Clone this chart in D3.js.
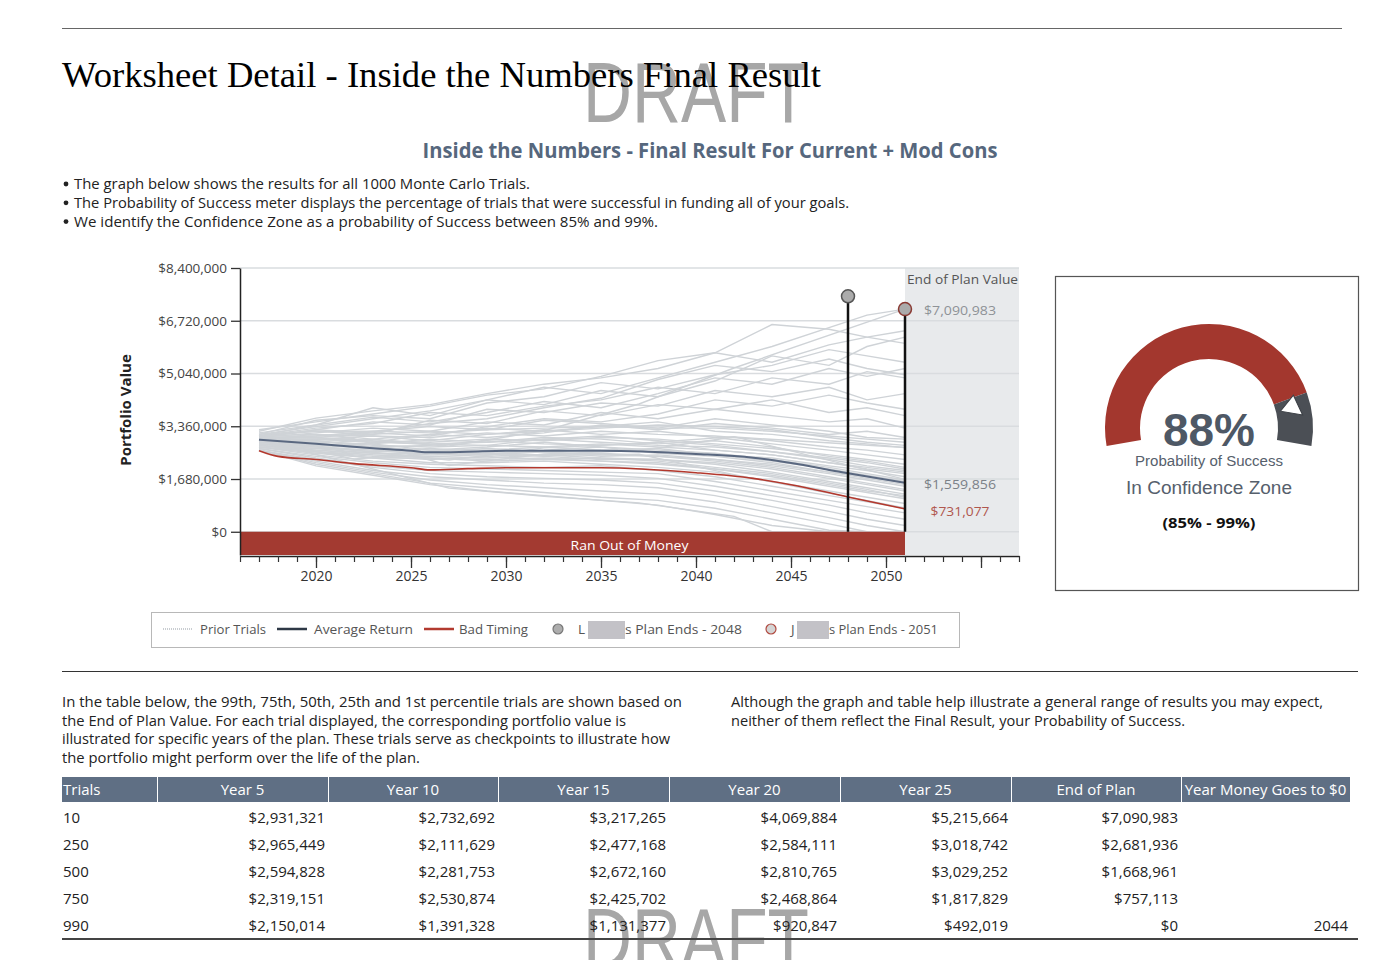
<!DOCTYPE html>
<html>
<head>
<meta charset="utf-8">
<script src="https://cdn.jsdelivr.net/npm/d3@7"></script>
<style>
body { margin: 0; background: #fff; }
svg { display: block; font-family: "Open Sans", sans-serif; }
</style>
</head>
<body>
<svg id="page" width="1400" height="960"></svg>
<script>
// ---- chart data (values in $ millions unless noted) ----
var trialYears = [2017, 2020, 2023, 2026, 2029, 2032, 2035, 2038, 2041, 2044, 2047, 2049, 2051];
var priorTrials = [
    [3.20, 3.62, 3.85, 4.05, 4.40, 4.70, 4.90, 5.20, 5.70, 6.60, 6.45, 6.20, 6.00],
    [3.15, 3.40, 3.95, 3.70, 4.20, 4.60, 4.40, 4.90, 5.40, 5.90, 6.50, 6.90, 7.09],
    [3.10, 3.55, 3.70, 3.60, 4.10, 4.30, 4.75, 4.55, 5.00, 5.30, 5.80, 5.60, 5.40],
    [3.05, 3.30, 3.45, 3.80, 3.70, 4.00, 4.20, 4.60, 4.40, 4.90, 4.70, 5.10, 4.90],
    [3.00, 3.25, 3.50, 3.40, 3.90, 3.80, 4.10, 4.00, 4.50, 4.30, 4.60, 4.20, 4.40],
    [3.05, 3.20, 3.10, 3.55, 3.45, 3.85, 3.70, 4.05, 3.90, 4.20, 3.80, 3.95, 3.70],
    [3.00, 3.15, 3.30, 3.20, 3.50, 3.40, 3.80, 3.60, 3.90, 3.70, 3.50, 3.60, 3.30],
    [2.95, 3.05, 3.20, 3.35, 3.25, 3.55, 3.45, 3.30, 3.60, 3.40, 3.20, 3.00, 2.95],
    [2.95, 3.10, 2.95, 3.10, 3.30, 3.20, 3.35, 3.50, 3.20, 3.10, 2.90, 2.80, 2.68],
    [2.90, 2.95, 3.05, 2.90, 3.10, 3.25, 3.10, 3.20, 3.00, 2.80, 2.60, 2.45, 2.30],
    [2.90, 2.85, 2.80, 2.95, 2.85, 3.00, 2.95, 2.80, 2.90, 2.70, 2.40, 2.25, 2.05],
    [2.85, 2.90, 2.70, 2.75, 2.90, 2.80, 2.75, 2.85, 2.60, 2.45, 2.20, 2.00, 1.85],
    [2.85, 2.75, 2.80, 2.60, 2.70, 2.85, 2.70, 2.60, 2.50, 2.30, 2.05, 1.85, 1.65],
    [2.80, 2.70, 2.55, 2.65, 2.55, 2.60, 2.70, 2.50, 2.40, 2.20, 1.90, 1.70, 1.50],
    [2.80, 2.65, 2.60, 2.45, 2.50, 2.45, 2.50, 2.40, 2.25, 2.05, 1.75, 1.55, 1.35],
    [2.75, 2.60, 2.45, 2.40, 2.35, 2.45, 2.35, 2.30, 2.15, 1.90, 1.60, 1.40, 1.20],
    [2.75, 2.55, 2.40, 2.30, 2.40, 2.30, 2.25, 2.20, 2.00, 1.75, 1.45, 1.25, 1.05],
    [2.70, 2.50, 2.35, 2.20, 2.20, 2.25, 2.15, 2.05, 1.90, 1.60, 1.30, 1.10, 0.90],
    [2.70, 2.45, 2.25, 2.15, 2.10, 2.05, 2.10, 1.95, 1.75, 1.45, 1.15, 0.95, 0.75],
    [2.65, 2.40, 2.20, 2.05, 2.00, 1.95, 1.90, 1.85, 1.60, 1.30, 1.00, 0.80, 0.60],
    [2.65, 2.35, 2.10, 1.95, 1.90, 1.85, 1.80, 1.70, 1.45, 1.15, 0.85, 0.60, 0.40],
    [2.60, 2.30, 2.05, 1.85, 1.75, 1.70, 1.65, 1.55, 1.30, 1.00, 0.65, 0.40, 0.20],
    [2.60, 2.25, 1.95, 1.75, 1.65, 1.55, 1.50, 1.40, 1.15, 0.80, 0.45, 0.20, 0.00],
    [2.60, 2.20, 1.90, 1.65, 1.50, 1.40, 1.30, 1.20, 0.95, 0.60, 0.25, 0.00, 0.00],
    [2.60, 2.15, 1.85, 1.55, 1.40, 1.25, 1.10, 1.00, 0.75, 0.40, 0.05, 0.00, 0.00],
    [2.60, 2.10, 1.80, 1.50, 1.30, 1.15, 1.00, 0.85, 0.55, 0.20, 0.00, 0.00, 0.00],
    [3.10, 3.35, 3.60, 3.85, 4.20, 4.05, 4.50, 4.30, 4.80, 5.60, 5.30, 5.90, 6.20],
    [3.00, 3.25, 3.15, 3.45, 3.60, 3.95, 4.25, 4.85, 5.30, 5.10, 5.50, 5.20, 5.00],
    [2.95, 3.00, 3.15, 3.05, 3.35, 3.60, 3.50, 3.75, 4.20, 4.00, 4.35, 4.10, 3.90],
    [2.90, 2.95, 2.85, 3.10, 3.00, 3.15, 3.40, 3.25, 3.45, 3.30, 3.10, 3.20, 3.00],
    [2.85, 2.80, 2.95, 2.80, 2.75, 2.95, 3.05, 2.90, 2.75, 2.55, 2.35, 2.20, 2.00],
    [2.80, 2.75, 2.65, 2.55, 2.65, 2.55, 2.60, 2.65, 2.45, 2.35, 2.10, 1.95, 1.75],
    [2.75, 2.65, 2.50, 2.50, 2.45, 2.55, 2.40, 2.45, 2.30, 2.10, 1.85, 1.65, 1.45],
    [2.70, 2.55, 2.35, 2.35, 2.25, 2.30, 2.35, 2.25, 2.05, 1.85, 1.55, 1.35, 1.10],
    [3.25, 3.50, 3.75, 4.00, 4.35, 4.55, 4.95, 5.45, 5.70, 5.40, 5.95, 6.20, 6.40],
    [3.05, 3.40, 3.65, 3.50, 3.80, 4.15, 3.95, 4.40, 4.90, 4.70, 5.20, 4.95, 5.20],
    [2.95, 2.90, 2.75, 2.70, 2.75, 2.70, 2.80, 2.70, 2.60, 2.45, 2.20, 2.05, 1.90],
    [2.90, 2.80, 2.70, 2.60, 2.60, 2.70, 2.60, 2.55, 2.45, 2.25, 2.00, 1.80, 1.60],
    [3.00, 3.00, 2.90, 2.85, 2.95, 2.90, 3.00, 2.95, 2.80, 2.65, 2.45, 2.30, 2.15],
    [2.85, 2.70, 2.60, 2.50, 2.50, 2.55, 2.45, 2.40, 2.30, 2.15, 1.90, 1.75, 1.55],
    [3.05, 3.10, 3.05, 3.00, 3.15, 3.05, 3.20, 3.10, 3.05, 2.90, 2.70, 2.60, 2.45],
    [2.80, 2.60, 2.50, 2.40, 2.45, 2.40, 2.30, 2.30, 2.20, 2.00, 1.70, 1.50, 1.30],
    [2.95, 2.95, 2.85, 2.80, 2.85, 2.95, 2.85, 2.75, 2.70, 2.55, 2.30, 2.10, 1.95],
    [3.10, 3.20, 3.20, 3.15, 3.25, 3.30, 3.35, 3.30, 3.30, 3.20, 3.05, 2.95, 2.85],
    [2.75, 2.55, 2.45, 2.35, 2.30, 2.35, 2.25, 2.15, 2.00, 1.80, 1.50, 1.30, 1.15],
    [3.00, 3.05, 3.10, 3.20, 3.10, 3.20, 3.30, 3.40, 3.35, 3.25, 3.00, 2.85, 2.75]
];

var avgYears = [2017, 2020, 2023, 2025, 2026, 2028, 2030, 2035, 2040, 2043, 2045, 2048, 2051];
var avgValues = [2.93, 2.80, 2.66, 2.58, 2.53, 2.55, 2.58, 2.58, 2.48, 2.36, 2.19, 1.86, 1.559856];

var badYears = [2017, 2018, 2020, 2022, 2025, 2026, 2028, 2030, 2035, 2040, 2043, 2045, 2048, 2051];
var badValues = [2.58, 2.40, 2.30, 2.17, 2.04, 1.97, 2.01, 2.04, 2.04, 1.88, 1.70, 1.50, 1.11, 0.731077];

var planEndYears = [2048, 2051];
var planEndValues = [7.50, 7.090983];

var yTicks = [0, 1680000, 3360000, 5040000, 6720000, 8400000];
var xLabelYears = [2020, 2025, 2030, 2035, 2040, 2045, 2050];

// gauge
var successPct = 0.88;
var zoneLow = 0.85;

// table (dollars)
var tableHeaders = ["Trials", "Year 5", "Year 10", "Year 15", "Year 20", "Year 25", "End of Plan", "Year Money Goes to $0"];
var tableTrials = ["10", "250", "500", "750", "990"];
var year5 = [2931321, 2965449, 2594828, 2319151, 2150014];
var year10 = [2732692, 2111629, 2281753, 2530874, 1391328];
var year15 = [3217265, 2477168, 2672160, 2425702, 1131377];
var year20 = [4069884, 2584111, 2810765, 2468864, 920847];
var year25 = [5215664, 3018742, 3029252, 1817829, 492019];
var endOfPlan = [7090983, 2681936, 1668961, 757113, 0];
var zeroYear = ["", "", "", "", "2044"];
var planStart = 2017;

// ---- drawing ----
var svg = d3.select("#page");
var money = d3.format("$,.0f");

function addText(str, x, y, o) {
    o = o || {};
    var t = svg.append("text").attr("x", x).attr("y", y).text(str)
        .attr("font-size", o.size || 15)
        .attr("fill", o.fill || "#222")
        .attr("text-anchor", o.anchor || "start");
    if (o.weight) t.attr("font-weight", o.weight);
    if (o.family) t.attr("font-family", o.family);
    if (o.width) t.attr("textLength", o.width).attr("lengthAdjust", "spacingAndGlyphs");
    return t;
}

svg.append("rect").attr("width", 1400).attr("height", 960).attr("fill", "#fff");

// watermarks go under everything else
function draft(yBase) {
    addText("DRAFT", 583, yBase, {size: 86, fill: "#a7a7a7", width: 226, family: "Liberation Sans"});
}
draft(122);
draft(968);

svg.append("line").attr("x1", 62).attr("x2", 1342).attr("y1", 28.5).attr("y2", 28.5)
    .attr("stroke", "#666").attr("stroke-width", 1);

addText("Worksheet Detail - Inside the Numbers Final Result", 62, 87,
    {size: 36.5, family: "Liberation Serif", fill: "#000", width: 759});
addText("Inside the Numbers - Final Result For Current + Mod Cons", 710, 158,
    {size: 21, weight: "bold", fill: "#56677d", anchor: "middle", width: 575});

var bullets = [
    ["The graph below shows the results for all 1000 Monte Carlo Trials.", 456],
    ["The Probability of Success meter displays the percentage of trials that were successful in funding all of your goals.", 775],
    ["We identify the Confidence Zone as a probability of Success between 85% and 99%.", 584]
];
bullets.forEach(function (b, i) {
    var by = 189 + i * 18.8;
    svg.append("circle").attr("cx", 66).attr("cy", by - 5).attr("r", 2.4).attr("fill", "#222");
    addText(b[0], 74, by, {size: 15, width: b[1]});
});

// scales
var x = d3.scaleLinear().domain([2016, 2057]).range([240, 1019]);
var y = d3.scaleLinear().domain([-740000, 8400000]).range([555, 268]);
var plotTop = 268, plotBottom = 555;

var chart = svg.append("g");

// end-of-plan shaded zone
chart.append("rect")
    .attr("x", x(2051)).attr("y", plotTop)
    .attr("width", x(2057) - x(2051)).attr("height", plotBottom - plotTop)
    .attr("fill", "#e8eaec");

// grid
chart.selectAll("line.grid").data(yTicks).enter().append("line")
    .attr("class", "grid")
    .attr("x1", x(2016)).attr("x2", x(2057))
    .attr("y1", function (d) { return y(d); }).attr("y2", function (d) { return y(d); })
    .attr("stroke", "#d9dcdf").attr("stroke-width", 1.5);

// prior trials
var trialLine = d3.line()
    .x(function (d) { return x(d[0]); })
    .y(function (d) { return y(d[1] * 1e6); });

chart.append("g").selectAll("path").data(priorTrials).enter().append("path")
    .attr("d", function (vals) {
        return trialLine(vals.map(function (v, i) { return [trialYears[i], v]; }));
    })
    .attr("fill", "none").attr("stroke", "#cfd3d7").attr("stroke-width", 1.4);

// percentile trials from the table also drawn as prior trials
chart.append("g").selectAll("path").data(tableTrials).enter().append("path")
    .attr("d", function (d, i) {
        var pts = [[planStart, avgValues[0]],
            [planStart + 5, year5[i] / 1e6], [planStart + 10, year10[i] / 1e6],
            [planStart + 15, year15[i] / 1e6], [planStart + 20, year20[i] / 1e6],
            [planStart + 25, year25[i] / 1e6]];
        if (zeroYear[i]) pts.push([+zeroYear[i], 0]);
        pts.push([2051, endOfPlan[i] / 1e6]);
        return trialLine(pts);
    })
    .attr("fill", "none").attr("stroke", "#cfd3d7").attr("stroke-width", 1.4);

var smoothLine = d3.line()
    .x(function (d) { return x(d[0]); })
    .y(function (d) { return y(d[1] * 1e6); })
    .curve(d3.curveMonotoneX);

chart.append("path")
    .attr("d", smoothLine(avgYears.map(function (yr, i) { return [yr, avgValues[i]]; })))
    .attr("fill", "none").attr("stroke", "#5a6880").attr("stroke-width", 2);

chart.append("path")
    .attr("d", smoothLine(badYears.map(function (yr, i) { return [yr, badValues[i]]; })))
    .attr("fill", "none").attr("stroke", "#b3382d").attr("stroke-width", 1.6);

// ran out of money band
chart.append("rect")
    .attr("x", x(2016)).attr("y", y(0))
    .attr("width", x(2051) - x(2016)).attr("height", plotBottom - y(0))
    .attr("fill", "#a33a31");
addText("Ran Out of Money", (x(2016) + x(2057)) / 2, 550,
    {size: 13.5, fill: "#fff", anchor: "middle", width: 118});

// plan end markers
planEndYears.forEach(function (yr, i) {
    chart.append("line")
        .attr("x1", x(yr)).attr("x2", x(yr))
        .attr("y1", y(0)).attr("y2", y(planEndValues[i] * 1e6))
        .attr("stroke", "#111").attr("stroke-width", 2.5);
    chart.append("circle")
        .attr("cx", x(yr)).attr("cy", y(planEndValues[i] * 1e6)).attr("r", 6.5)
        .attr("fill", "#ababab")
        .attr("stroke", i === 0 ? "#555" : "#8a3a33").attr("stroke-width", 1.5);
});

// axes
var yAxis = chart.append("g").attr("transform", "translate(" + x(2016) + ",0)")
    .call(d3.axisLeft(y).tickValues(yTicks).tickFormat(d3.format("$,")).tickSize(9).tickSizeOuter(0).tickPadding(4));
yAxis.select(".domain").attr("stroke", "#222").attr("stroke-width", 1.5);
yAxis.selectAll(".tick line").attr("stroke", "#333").attr("stroke-width", 1.3);
yAxis.selectAll("text").attr("font-size", 13.5).attr("fill", "#444").attr("font-family", "Open Sans");

var xMinor = chart.append("g").attr("transform", "translate(0," + (plotBottom + 1) + ")")
    .call(d3.axisBottom(x).tickValues(d3.range(2016, 2058)).tickFormat("").tickSize(6).tickSizeOuter(0));
xMinor.select(".domain").attr("stroke", "#222").attr("stroke-width", 1.5);
xMinor.selectAll(".tick line").attr("stroke", "#333").attr("stroke-width", 1.2);

var xMajor = chart.append("g").attr("transform", "translate(0," + (plotBottom + 1) + ")")
    .call(d3.axisBottom(x).tickValues(xLabelYears.concat([2055])).tickSize(12).tickSizeOuter(0).tickPadding(3)
        .tickFormat(function (d) { return d <= 2050 ? d : ""; }));
xMajor.select(".domain").remove();
xMajor.selectAll(".tick line").attr("stroke", "#333").attr("stroke-width", 1.3);
xMajor.selectAll("text").attr("font-size", 14).attr("fill", "#333").attr("font-family", "Open Sans");

svg.append("text")
    .attr("transform", "translate(131,410) rotate(-90)")
    .attr("text-anchor", "middle").attr("font-size", 15).attr("font-weight", "bold")
    .attr("fill", "#222").text("Portfolio Value");

// end of plan value labels
addText("End of Plan Value", 907, 284, {size: 13.5, fill: "#555", width: 111});
addText(money(planEndValues[1] * 1e6), 960, y(planEndValues[1] * 1e6) + 6, {size: 13.5, fill: "#8e9297", anchor: "middle", width: 72});
addText(money(avgValues[avgValues.length - 1] * 1e6), 960, y(avgValues[avgValues.length - 1] * 1e6) + 6, {size: 13.5, fill: "#7b8188", anchor: "middle", width: 72});
addText(money(badValues[badValues.length - 1] * 1e6), 960, y(badValues[badValues.length - 1] * 1e6) + 7, {size: 13.5, fill: "#b0574d", anchor: "middle", width: 59});

// legend
svg.append("rect").attr("x", 151.5).attr("y", 612.5).attr("width", 808).attr("height", 35)
    .attr("fill", "#fff").attr("stroke", "#b8b8b8");
var legendY = 629;
var legendLines = [
    {x: 163, color: "#c9cdd1", dash: "1,1", w: 2, label: "Prior Trials", tx: 200, tw: 66},
    {x: 277, color: "#2e3846", dash: null, w: 2.5, label: "Average Return", tx: 314, tw: 99},
    {x: 424, color: "#b23a2f", dash: null, w: 2.5, label: "Bad Timing", tx: 459, tw: 69}
];
legendLines.forEach(function (l) {
    svg.append("line").attr("x1", l.x).attr("x2", l.x + 30).attr("y1", legendY).attr("y2", legendY)
        .attr("stroke", l.color).attr("stroke-width", l.w).attr("stroke-dasharray", l.dash);
    addText(l.label, l.tx, legendY + 5, {size: 13.5, fill: "#555", width: l.tw});
});
var legendMarkers = [
    {cx: 558, fill: "#adadad", stroke: "#777", initial: "L", ix: 578, box: [588, 625], label: "s Plan Ends - 2048", tw: 117},
    {cx: 771, fill: "#d4d4d4", stroke: "#b04a40", initial: "J", ix: 791, box: [797, 829], label: "s Plan Ends - 2051", tw: 109}
];
legendMarkers.forEach(function (m) {
    svg.append("circle").attr("cx", m.cx).attr("cy", legendY).attr("r", 5)
        .attr("fill", m.fill).attr("stroke", m.stroke).attr("stroke-width", 1.2);
    addText(m.initial, m.ix, legendY + 5, {size: 13.5, fill: "#555"});
    svg.append("rect").attr("x", m.box[0]).attr("y", legendY - 8).attr("width", m.box[1] - m.box[0]).attr("height", 18)
        .attr("fill", "#c3c2c7");
    addText(m.label, m.box[1], legendY + 5, {size: 13.5, fill: "#555", width: m.tw});
});

// gauge
svg.append("rect").attr("x", 1055.5).attr("y", 276.5).attr("width", 303).attr("height", 314)
    .attr("fill", "none").attr("stroke", "#555").attr("stroke-width", 1.2);
var gcx = 1209, gcy = 428;
var gAngle = d3.scaleLinear().domain([0, 1]).range([-100 * Math.PI / 180, 100 * Math.PI / 180]);
var arc = d3.arc().innerRadius(69).outerRadius(104);
var gauge = svg.append("g").attr("transform", "translate(" + gcx + "," + gcy + ")");
gauge.append("path").attr("d", arc({startAngle: gAngle(0), endAngle: gAngle(zoneLow)})).attr("fill", "#a3372e");
gauge.append("path").attr("d", arc({startAngle: gAngle(zoneLow), endAngle: gAngle(1)})).attr("fill", "#4b4f55");
var deg = gAngle(successPct) * 180 / Math.PI;
gauge.append("path")
    .attr("transform", "rotate(" + deg + ") translate(0,-86)")
    .attr("d", "M10,-8 L1,12.6 L-11.4,-3.8 Z")
    .attr("fill", "#fff").attr("stroke", "#3c4046").attr("stroke-width", 1);

addText(d3.format(".0%")(successPct), gcx, 446, {size: 47, weight: "bold", fill: "#4e5865", anchor: "middle", family: "Liberation Sans", width: 92});
addText("Probability of Success", gcx, 466, {size: 14, fill: "#56606c", anchor: "middle", family: "Liberation Sans", width: 148});
addText("In Confidence Zone", gcx, 494, {size: 17.5, fill: "#56606c", anchor: "middle", family: "Liberation Sans", width: 166});
addText("(85% - 99%)", gcx, 528, {size: 15, weight: "bold", fill: "#111", anchor: "middle", width: 93});

// explanation text
svg.append("line").attr("x1", 62).attr("x2", 1358).attr("y1", 671.5).attr("y2", 671.5)
    .attr("stroke", "#333").attr("stroke-width", 1);
var leftPara = [
    ["In the table below, the 99th, 75th, 50th, 25th and 1st percentile trials are shown based on", 620],
    ["the End of Plan Value. For each trial displayed, the corresponding portfolio value is", 564],
    ["illustrated for specific years of the plan. These trials serve as checkpoints to illustrate how", 608],
    ["the portfolio might perform over the life of the plan.", 358]
];
leftPara.forEach(function (l, i) { addText(l[0], 62, 707 + i * 18.7, {size: 15, width: l[1]}); });
var rightPara = [
    ["Although the graph and table help illustrate a general range of results you may expect,", 592],
    ["neither of them reflect the Final Result, your Probability of Success.", 454]
];
rightPara.forEach(function (l, i) { addText(l[0], 731, 707 + i * 18.7, {size: 15, width: l[1]}); });

// table
var colEdges = [62, 157, 328, 498, 669, 840, 1011, 1181, 1350];
var headTop = 777, headH = 25;
tableHeaders.forEach(function (h, i) {
    svg.append("rect").attr("x", colEdges[i] + (i ? 1 : 0)).attr("y", headTop)
        .attr("width", colEdges[i + 1] - colEdges[i] - (i ? 1 : 0)).attr("height", headH)
        .attr("fill", "#5f6f84");
    if (i === 0) addText(h, colEdges[0] + 1, headTop + 18, {size: 15, fill: "#fff"});
    else addText(h, (colEdges[i] + colEdges[i + 1]) / 2, headTop + 18, {size: 15, fill: "#fff", anchor: "middle"});
});
var cols = [year5, year10, year15, year20, year25, endOfPlan];
tableTrials.forEach(function (t, r) {
    var yy = 823 + r * 27;
    addText(t, 63, yy, {size: 15});
    cols.forEach(function (c, ci) {
        addText(money(c[r]), colEdges[ci + 2] - 3, yy, {size: 15, anchor: "end"});
    });
    if (zeroYear[r]) addText(zeroYear[r], colEdges[8] - 2, yy, {size: 15, anchor: "end"});
});
svg.append("line").attr("x1", 62).attr("x2", 1358).attr("y1", 939).attr("y2", 939)
    .attr("stroke", "#444").attr("stroke-width", 2);
</script>
</body>
</html>
